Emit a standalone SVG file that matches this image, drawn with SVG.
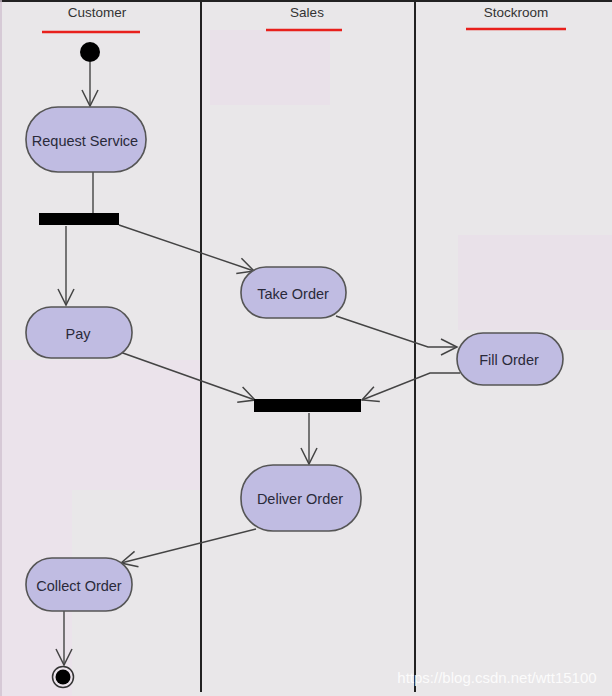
<svg xmlns="http://www.w3.org/2000/svg" width="612" height="696" viewBox="0 0 612 696">
<defs>
<marker id="arr" viewBox="0 0 20 20" refX="18" refY="10" markerWidth="20" markerHeight="20" markerUnits="userSpaceOnUse" orient="auto">
<path d="M2,2 L18,10 L2,18" fill="none" stroke="#444" stroke-width="1.5"/>
</marker>
</defs>
<style>
.lane{stroke:#222;stroke-width:2;fill:none}
.hdr{font-family:"Liberation Sans",Arial,sans-serif;font-size:13.5px;fill:#333;text-anchor:middle}
.ul{stroke:#e8201c;stroke-width:2.5}
.act{fill:#c0bce2;stroke:#555;stroke-width:1.6}
.lbl{font-family:"Liberation Sans",Arial,sans-serif;font-size:14.5px;fill:#2a2a3a;text-anchor:middle;dominant-baseline:central}
.bar{fill:#000}
.con{stroke:#444;stroke-width:1.4;fill:none}
.arw{marker-end:url(#arr)}
</style>
<rect x="0" y="0" width="612" height="696" fill="#e9e7e9"/>
<rect x="210" y="30" width="120" height="75" fill="#e9e1e9"/>
<rect x="458" y="235" width="154" height="95" fill="#e9e1e9"/>
<rect x="0" y="360" width="200" height="336" fill="#ebe3eb"/>
<rect x="72" y="490" width="128" height="206" fill="#e9e7e9"/>
<g id="lanes">
<line class="lane" x1="0" y1="1" x2="612" y2="1"/>
<line x1="1" y1="0" x2="1" y2="696" stroke="#cfc0cf" stroke-width="1.5"/>
<line class="lane" x1="201" y1="0" x2="201" y2="692"/>
<line class="lane" x1="415" y1="0" x2="415" y2="692"/>
<text class="hdr" x="97" y="17">Customer</text>
<line class="ul" x1="42" y1="32" x2="140" y2="32"/>
<text class="hdr" x="307" y="17">Sales</text>
<line class="ul" x1="266" y1="30" x2="342" y2="30"/>
<text class="hdr" x="516" y="17">Stockroom</text>
<line class="ul" x1="466" y1="29" x2="566" y2="29"/>
</g>
<g id="connectors">
<line class="con arw" x1="90" y1="62" x2="90" y2="106"/>
<line class="con" x1="93" y1="172" x2="93" y2="213"/>
<line class="con arw" x1="66" y1="226" x2="66" y2="305"/>
<line class="con arw" x1="119" y1="225" x2="254" y2="271"/>
<polyline class="con arw" points="336,316 428,347 457,347"/>
<polyline class="con arw" points="460,373 430,373 362,400"/>
<line class="con arw" x1="120" y1="352" x2="255" y2="400"/>
<line class="con arw" x1="309" y1="413" x2="309" y2="464"/>
<line class="con arw" x1="256" y1="529" x2="121" y2="563"/>
<line class="con arw" x1="64" y1="611" x2="64" y2="665"/>
</g>
<g id="start"><circle cx="90" cy="52" r="10" fill="#000"/></g>
<g id="request-service"><rect class="act" x="26" y="107" width="120" height="65" rx="32" ry="32"/><text class="lbl" x="85" y="141">Request Service</text></g>
<g id="fork"><rect class="bar" x="39" y="213" width="80" height="12"/></g>
<g id="pay"><rect class="act" x="26" y="307" width="106" height="51" rx="25" ry="25"/><text class="lbl" x="78" y="334">Pay</text></g>
<g id="take-order"><rect class="act" x="241" y="267" width="105" height="51" rx="25" ry="25"/><text class="lbl" x="293" y="294">Take Order</text></g>
<g id="fill-order"><rect class="act" x="457" y="333" width="106" height="52" rx="26" ry="26"/><text class="lbl" x="509" y="360">Fill Order</text></g>
<g id="join"><rect class="bar" x="254" y="399" width="107" height="13"/></g>
<g id="deliver-order"><rect class="act" x="241" y="465" width="120" height="66" rx="32" ry="32"/><text class="lbl" x="300" y="499">Deliver Order</text></g>
<g id="collect-order"><rect class="act" x="26" y="558" width="106" height="53" rx="26" ry="26"/><text class="lbl" x="79" y="586">Collect Order</text></g>
<g id="end"><circle cx="63" cy="677" r="10.5" fill="none" stroke="#333" stroke-width="1.5"/><circle cx="63" cy="677" r="7.5" fill="#000"/></g>
<text x="497" y="683" font-family="'Liberation Sans',Arial,sans-serif" font-size="15" fill="#ffffff" fill-opacity="0.85" text-anchor="middle">https://blog.csdn.net/wtt15100</text>
</svg>
